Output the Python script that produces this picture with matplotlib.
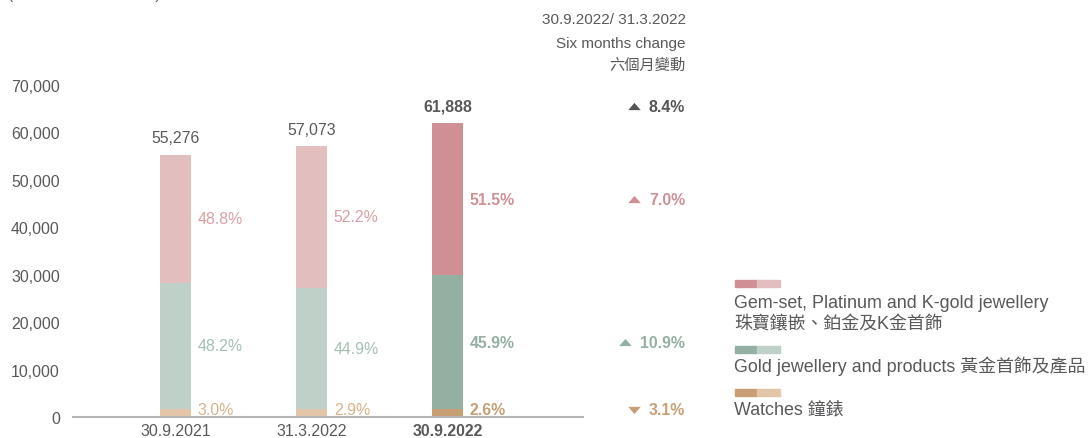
import matplotlib
matplotlib.use("Agg")
import matplotlib.pyplot as plt
from matplotlib.patches import Rectangle
import numpy as np

plt.rcParams['font.family'] = ['Liberation Sans', 'Noto Sans CJK TC', 'DejaVu Sans']

# data
periods = ['30.9.2021', '31.3.2022', '30.9.2022']
totals = [55276, 57073, 61888]
gem_share = [48.8, 52.2, 51.5]
gold_share = [48.2, 44.9, 45.9]
watch_share = [3.0, 2.9, 2.6]
change_labels = ['8.4%', '7.0%', '10.9%', '3.1%']
change_up = [True, True, True, False]
yticks = [0, 10000, 20000, 30000, 40000, 50000, 60000, 70000]

gem_light, gem_dark = '#e3bebf', '#cf8f94'
gold_light, gold_dark = '#bfd0c8', '#93b0a3'
watch_light, watch_dark = '#e3c6a9', '#c89e74'
gem_lab, gold_lab, watch_lab = '#dc9fa3', '#a5bfb3', '#dab28b'
txt = '#58595b'
fs = 11.4

W, H = 1092, 439
fig = plt.figure(figsize=(W / 100, H / 100), dpi=100)


def fx(px):
    return px / W


def fy(py):
    return 1 - py / H


ax = fig.add_axes([fx(73), fy(418), fx(583) - fx(73), fy(86) - fy(418)])
ax.set_xlim(-0.754, 2.996)
ax.set_ylim(0, 70000)

tot = np.array(totals, dtype=float)
watch = tot * np.array(watch_share) / 100
gold = tot * np.array(gold_share) / 100
gem = tot * np.array(gem_share) / 100

x = np.arange(len(periods))
bw = 0.228
for i in x:
    last = i == len(x) - 1
    cw = watch_dark if last else watch_light
    cg = gold_dark if last else gold_light
    cm = gem_dark if last else gem_light
    ax.bar(i, watch[i], bw, color=cw, zorder=2)
    ax.bar(i, gold[i], bw, bottom=watch[i], color=cg, zorder=2)
    ax.bar(i, gem[i], bw, bottom=watch[i] + gold[i], color=cm, zorder=2)

    fw = 'bold' if last else 'normal'
    lx = i + bw / 2 + 0.05
    ax.text(lx, (watch[i] + gold[i]) + gem[i] / 2, f'{gem_share[i]:.1f}%',
            color=gem_dark if last else gem_lab, fontsize=fs, fontweight=fw,
            va='center', ha='left')
    ax.text(lx, watch[i] + gold[i] / 2, f'{gold_share[i]:.1f}%',
            color=gold_dark if last else gold_lab, fontsize=fs, fontweight=fw,
            va='center', ha='left')
    ax.text(lx, watch[i] / 2 + 700, f'{watch_share[i]:.1f}%',
            color=watch_dark if last else watch_lab, fontsize=fs, fontweight=fw,
            va='center', ha='left')
    ax.text(i, tot[i] + 3600, f'{totals[i]:,}', color=txt, fontsize=fs,
            fontweight=fw, ha='center', va='center')

ax.set_yticks(yticks)
ax.set_yticklabels([f'{v:,}' for v in yticks])
ax.set_xticks(x)
ax.set_xticklabels(periods)
for k, lab in enumerate(ax.get_xticklabels()):
    if k == len(x) - 1:
        lab.set_fontweight('bold')
ax.tick_params(axis='both', length=0, labelsize=fs, labelcolor=txt)
ax.tick_params(axis='y', pad=9.5)
ax.tick_params(axis='x', pad=4)
for s in ['top', 'right', 'left']:
    ax.spines[s].set_visible(False)
ax.spines['bottom'].set_color('#b3b3b3')
ax.spines['bottom'].set_linewidth(1.5)

# six months change column (aligned with latest bar segments)
i = len(x) - 1
cy = [tot[i] + 3600, watch[i] + gold[i] + gem[i] / 2, watch[i] + gold[i] / 2, watch[i] / 2 + 700]
ccol = ['#555555', gem_dark, gold_dark, watch_dark]
cx = 3.746
tri_up = [(-1, -0.58), (1, -0.58), (0, 0.58)]
tri_dn = [(-1, 0.58), (1, 0.58), (0, -0.58)]
texts = []
for lab, yy, c in zip(change_labels, cy, ccol):
    texts.append(ax.text(cx, yy, lab, color=c, fontsize=fs, fontweight='bold',
                         ha='right', va='center', clip_on=False))
fig.canvas.draw()
for t, up, yy, c in zip(texts, change_up, cy, ccol):
    bb = t.get_window_extent()
    tx = ax.transData.inverted().transform((bb.x0 - 15, 0))[0]
    ax.plot([tx], [yy], marker=tri_up if up else tri_dn, color=c, markersize=9,
            markeredgewidth=0, clip_on=False)

# header of change column
fig.text(fx(686), fy(20), '30.9.2022/ 31.3.2022', color=txt, fontsize=11, ha='right', va='center')
fig.text(fx(686), fy(44), 'Six months change', color=txt, fontsize=11, ha='right', va='center')
fig.text(fx(686), fy(66), '六個月變動', color=txt, fontsize=11, ha='right', va='center')

# unit text, mostly cut off at the top as in the source
fig.text(fx(8), fy(-1), '(HK$ million 百萬港元)', color=txt, fontsize=11, ha='left', va='baseline')

# legend
leg = [
    (gem_dark, gem_light, 284, ['Gem-set, Platinum and K-gold jewellery', '珠寶鑲嵌、鉑金及K金首飾'], [304, 325]),
    (gold_dark, gold_light, 350, ['Gold jewellery and products 黃金首飾及產品'], [366]),
    (watch_dark, watch_light, 393, ['Watches 鐘錶'], [410]),
]
for cd, cl, sy, lines, ly in leg:
    fig.add_artist(Rectangle((fx(735), fy(sy + 3.5)), fx(22), 7 / H, color=cd, transform=fig.transFigure))
    fig.add_artist(Rectangle((fx(757), fy(sy + 3.5)), fx(23), 7 / H, color=cl, transform=fig.transFigure))
    for s, yy in zip(lines, ly):
        fig.text(fx(734), fy(yy), s, color=txt, fontsize=12.9, ha='left', va='center')

fig.savefig('out.png', dpi=100)
